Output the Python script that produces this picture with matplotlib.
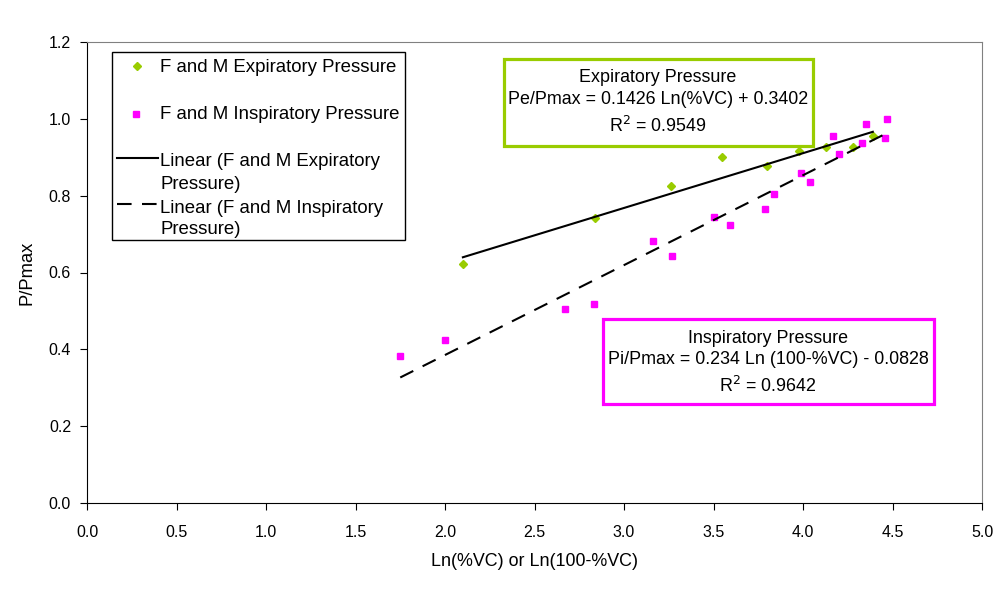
import matplotlib.pyplot as plt
import numpy as np
from matplotlib.patches import Rectangle
from matplotlib.lines import Line2D

plt.rcParams['font.family'] = ['Liberation Sans', 'DejaVu Sans']

# F and M Expiratory Pressure
exp_x = [2.10, 2.84, 3.26, 3.55, 3.80, 3.98, 4.13, 4.28, 4.39]
exp_y = [0.622, 0.742, 0.826, 0.901, 0.878, 0.917, 0.927, 0.927, 0.956]

# F and M Inspiratory Pressure
insp_x = [1.75, 2.00, 2.67, 2.83, 3.16, 3.27, 3.50, 3.59, 3.79, 3.84,
          3.99, 4.04, 4.17, 4.20, 4.33, 4.35, 4.46, 4.47]
insp_y = [0.383, 0.424, 0.505, 0.518, 0.682, 0.643, 0.744, 0.724, 0.766, 0.805,
          0.859, 0.836, 0.956, 0.909, 0.938, 0.987, 0.951, 1.000]

# trendline coefficients (from the chart labels)
exp_slope, exp_icpt = 0.1426, 0.3402
insp_slope, insp_icpt = 0.234, -0.0828

legend_labels = ['F and M Expiratory Pressure', 'F and M Inspiratory Pressure',
                 'Linear (F and M Expiratory\nPressure)',
                 'Linear (F and M Inspiratory\nPressure)']
exp_box_lines = ['Expiratory Pressure', 'Pe/Pmax = 0.1426 Ln(%VC) + 0.3402',
                 'R$^2$ = 0.9549']
insp_box_lines = ['Inspiratory Pressure', 'Pi/Pmax = 0.234 Ln (100-%VC) - 0.0828',
                  'R$^2$ = 0.9642']

green = '#99CC00'
magenta = '#FF00FF'

W, H = 1005, 611
fig = plt.figure(figsize=(W / 100, H / 100), dpi=100)
ax = fig.add_axes([87 / W, (H - 503) / H, (982 - 87) / W, (503 - 42) / H])


def fx(px):
    return px / W


def fy(py):
    return 1 - py / H


ax.plot(exp_x, exp_y, linestyle='none', marker='D', markersize=4.3, color=green)
ax.plot(insp_x, insp_y, linestyle='none', marker='s', markersize=4.5, color=magenta)

ex = np.array([min(exp_x), max(exp_x)])
ax.plot(ex, exp_slope * ex + exp_icpt, color='black', lw=1.5)
ix = np.array([min(insp_x), max(insp_x)])
ax.plot(ix, insp_slope * ix + insp_icpt, color='black', lw=1.5, dashes=(7, 5))

ax.set_xlim(0, 5)
ax.set_ylim(0, 1.2)
ax.set_xticks(np.arange(0, 5.01, 0.5))
ax.set_yticks(np.arange(0, 1.21, 0.2))
ax.xaxis.set_major_formatter(plt.FormatStrFormatter('%.1f'))
ax.yaxis.set_major_formatter(plt.FormatStrFormatter('%.1f'))
ax.tick_params(labelsize=11.5, length=5, direction='out', color='black')
ax.xaxis.set_tick_params(pad=11)
ax.yaxis.set_tick_params(pad=6.5)
ax.spines['top'].set_color('#808080')
ax.spines['right'].set_color('#808080')
ax.set_xlabel('Ln(%VC) or Ln(100-%VC)', fontsize=12.9, labelpad=9)
ax.set_ylabel('P/Pmax', fontsize=13.2, labelpad=9.5)

# legend (drawn by hand to follow the original spacing)
fig.add_artist(Rectangle((fx(112), fy(240)), (405 - 112) / W, (240 - 52) / H,
                         transform=fig.transFigure, facecolor='white',
                         edgecolor='black', lw=1))
fig.add_artist(Line2D([fx(137)], [fy(66)], transform=fig.transFigure,
                      marker='D', markersize=4.3, color=green, linestyle='none'))
fig.add_artist(Line2D([fx(136)], [fy(114)], transform=fig.transFigure,
                      marker='s', markersize=4.5, color=magenta, linestyle='none'))
fig.add_artist(Line2D([fx(117), fx(158)], [fy(158), fy(158)],
                      transform=fig.transFigure, color='black', lw=1.5))
fig.add_artist(Line2D([fx(117), fx(158)], [fy(204), fy(204)],
                      transform=fig.transFigure, color='black', lw=1.5,
                      dashes=(7, 5)))
leg_baselines = [[72.5], [119], [166.5, 188.5], [213, 234.5]]
for label, bases in zip(legend_labels, leg_baselines):
    for line, b in zip(label.split('\n'), bases):
        fig.text(fx(160), fy(b), line, ha='left', va='baseline', fontsize=13.4)

# equation boxes
fig.add_artist(Rectangle((fx(503.5), fy(145.5)), (812.5 - 503.5) / W,
                         (145.5 - 58.5) / H, transform=fig.transFigure,
                         facecolor='white', edgecolor=green, lw=2.3))
for line, b in zip(exp_box_lines, [82.5, 104, 131.5]):
    fig.text(fx(658), fy(b), line, ha='center', va='baseline', fontsize=12.9)

fig.add_artist(Rectangle((fx(603), fy(404)), (934 - 603) / W, (404 - 318.5) / H,
                         transform=fig.transFigure, facecolor='white',
                         edgecolor=magenta, lw=2.3))
for line, b in zip(insp_box_lines, [343, 364.5, 392]):
    fig.text(fx(768), fy(b), line, ha='center', va='baseline', fontsize=12.9)

fig.savefig('out.png', dpi=100)
